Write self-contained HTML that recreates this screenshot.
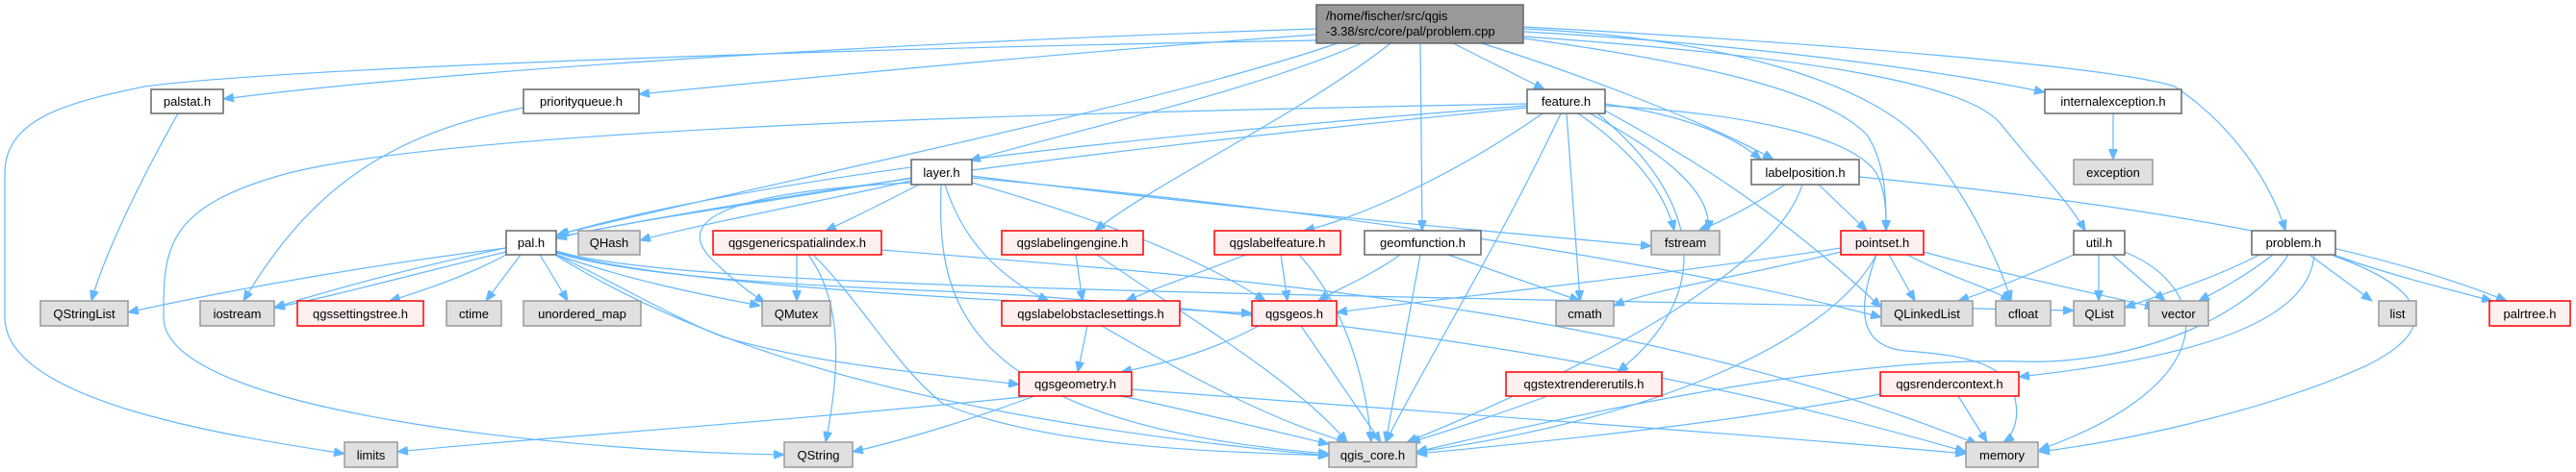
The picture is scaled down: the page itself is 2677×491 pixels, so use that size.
<!DOCTYPE html>
<html><head><meta charset="utf-8"><style>
html,body{margin:0;padding:0;background:#fff;}
svg{display:block;}
text{font-family:"Liberation Sans",sans-serif;font-size:13px;fill:#000;}
.w{fill:#fff;stroke:#666;stroke-width:1.5}
.g{fill:#e0e0e0;stroke:#999;stroke-width:1.5}
.r{fill:#fff0f0;stroke:#f00;stroke-width:1.5}
.t{fill:#999;stroke:#666;stroke-width:1.5}
.e path{fill:none;stroke:#63b8ff;stroke-width:1.2;marker-end:url(#a)}
</style></head><body>
<svg width="2677" height="491" viewBox="0 0 2677 491" xmlns="http://www.w3.org/2000/svg">
<defs><marker id="a" markerUnits="userSpaceOnUse" markerWidth="12" markerHeight="9" refX="11" refY="4.5" orient="auto"><path d="M0,0 L11,4.5 L0,9 z" fill="#63b8ff" stroke="#63b8ff"/></marker></defs>
<g class="e">
<path d="M1368,30 C900,45 450,75 232,103"/>
<path d="M1368,36 C1100,55 850,80 664,98"/>
<path d="M1368,42 C900,50 300,70 150,90 C80,105 5,120 5,180 L5,330 C5,420 250,455 358,472"/>
<path d="M1390,45 C1200,110 800,190 580,244"/>
<path d="M1415,45 C1300,95 1120,135 1008,167"/>
<path d="M1445,45 C1350,120 1200,190 1138,240"/>
<path d="M1476,45 L1478,240"/>
<path d="M1510,45 C1550,65 1580,80 1605,93"/>
<path d="M1540,45 C1650,80 1780,130 1843,166"/>
<path d="M1584,40 C1800,70 1900,100 1940,140 C1960,170 1960,210 1960,240"/>
<path d="M1584,30 C1800,40 1950,90 2000,150 C2050,210 2080,280 2090,313"/>
<path d="M1584,38 C1900,60 2050,90 2080,130 C2120,180 2150,210 2167,240"/>
<path d="M1584,33 C1800,45 2000,70 2125,96"/>
<path d="M1584,28 C1900,45 2200,70 2260,90 C2320,130 2360,190 2375,240"/>
<path d="M1587,108 C1200,115 500,130 300,180 C170,215 170,260 170,330 C170,430 600,470 815,473"/>
<path d="M1587,110 C1200,140 800,180 578,245"/>
<path d="M1587,112 C1100,160 600,220 285,320"/>
<path d="M1668,108 C1750,120 1800,140 1830,166"/>
<path d="M1668,110 C1850,120 1930,150 1950,180 C1960,200 1960,220 1960,240"/>
<path d="M1603,118 C1500,190 1400,230 1355,240"/>
<path d="M1622,118 C1560,250 1480,380 1440,460"/>
<path d="M1628,118 L1642,313"/>
<path d="M1640,118 C1700,160 1730,200 1740,240"/>
<path d="M1652,118 C1730,160 1780,200 1775,240"/>
<path d="M1660,118 C1760,200 1790,300 1681,387"/>
<path d="M1668,115 C1750,160 1850,220 1955,320"/>
<path d="M947,185 C800,210 650,230 578,248"/>
<path d="M947,188 C850,210 720,235 665,250"/>
<path d="M955,192 C910,215 880,230 858,240"/>
<path d="M947,190 C750,200 700,230 740,270 C760,290 780,305 795,315"/>
<path d="M982,192 C1000,250 1040,290 1090,313"/>
<path d="M1010,190 C1150,230 1250,270 1315,313"/>
<path d="M978,192 C975,300 980,440 1381,472"/>
<path d="M1010,183 C1300,220 1600,245 1716,256"/>
<path d="M1010,185 C1500,230 1800,290 1955,330"/>
<path d="M1855,192 C1820,215 1790,230 1765,240"/>
<path d="M1890,192 L1940,240"/>
<path d="M1873,192 C1840,300 1560,420 1462,460"/>
<path d="M1932,184 C2200,210 2450,250 2605,313"/>
<path d="M526,258 C350,280 200,310 133,325"/>
<path d="M526,262 C450,280 340,310 285,320"/>
<path d="M526,265 C480,290 430,305 405,313"/>
<path d="M541,265 L505,313"/>
<path d="M561,265 L590,313"/>
<path d="M578,265 C650,290 720,305 790,318"/>
<path d="M578,262 C700,300 1100,315 1301,326"/>
<path d="M578,265 C650,300 700,330 750,350 C850,380 980,390 1059,400"/>
<path d="M578,266 C700,340 900,430 1381,474"/>
<path d="M578,261 C700,300 1300,305 2155,323"/>
<path d="M578,263 C700,300 1000,300 1100,310 C1500,340 1800,400 2043,470"/>
<path d="M828,265 L828,313"/>
<path d="M840,265 C880,320 870,400 858,460"/>
<path d="M845,265 C900,320 930,380 980,420 C1100,470 1300,470 1381,474"/>
<path d="M916,260 C1300,290 1700,320 2055,462"/>
<path d="M1118,265 L1125,313"/>
<path d="M1140,265 C1250,340 1350,400 1400,460"/>
<path d="M1295,265 C1230,290 1200,300 1170,313"/>
<path d="M1331,265 L1338,313"/>
<path d="M1350,265 C1400,320 1420,400 1425,460"/>
<path d="M1455,265 C1420,290 1390,300 1370,313"/>
<path d="M1476,265 L1440,460"/>
<path d="M1505,265 L1642,313"/>
<path d="M1130,339 L1120,387"/>
<path d="M1145,339 C1250,400 1330,440 1400,460"/>
<path d="M1308,339 C1250,370 1200,380 1165,387"/>
<path d="M1352,339 L1435,460"/>
<path d="M1072,412 C800,440 500,460 413,470"/>
<path d="M1075,412 C1000,440 930,460 886,470"/>
<path d="M1165,412 C1250,430 1330,450 1381,462"/>
<path d="M1176,405 C1500,430 1800,450 2043,472"/>
<path d="M1608,412 C1560,430 1500,450 1465,460"/>
<path d="M1963,265 L1990,313"/>
<path d="M1982,265 C2030,290 2070,300 2090,313"/>
<path d="M1999,262 C2100,290 2200,310 2240,320"/>
<path d="M1913,258 C1700,290 1500,310 1389,325"/>
<path d="M1913,262 C1800,290 1720,300 1677,318"/>
<path d="M1950,265 C1900,360 1700,440 1472,470"/>
<path d="M1950,265 C1930,320 1930,360 1980,365 C2050,370 2090,380 2095,420 C2098,440 2090,455 2082,460"/>
<path d="M2155,265 C2100,290 2060,305 2035,313"/>
<path d="M2181,265 L2181,313"/>
<path d="M2195,265 L2250,313"/>
<path d="M2208,262 C2300,300 2310,400 2119,468"/>
<path d="M2348,265 C2300,290 2250,305 2208,320"/>
<path d="M2362,265 C2330,290 2300,305 2285,313"/>
<path d="M2400,265 L2465,313"/>
<path d="M2425,265 C2480,285 2540,300 2590,313"/>
<path d="M2405,265 C2400,330 2300,370 2098,392"/>
<path d="M2425,266 C2520,300 2540,340 2460,380 C2350,430 2200,460 2119,470"/>
<path d="M2378,265 C2330,340 2200,380 2100,376 C1900,370 1600,440 1472,470"/>
<path d="M1954,410 C1800,440 1600,460 1472,472"/>
<path d="M2035,412 L2065,460"/>
<path d="M2196,118 L2196,166"/>
<path d="M185,118 C150,180 110,260 95,313"/>
<path d="M544,112 C400,140 320,200 253,313"/>
</g>
<rect class="t" x="1368" y="5" width="215" height="40"/>
<text x="1378" y="21">/home/fischer/src/qgis</text>
<text x="1378" y="37">-3.38/src/core/pal/problem.cpp</text>
<g text-anchor="middle">
<rect class="w" x="157" y="93" width="75" height="25"/><text x="194.5" y="110">palstat.h</text>
<rect class="w" x="544" y="93" width="120" height="25"/><text x="604" y="110">priorityqueue.h</text>
<rect class="w" x="1587" y="93" width="81" height="25"/><text x="1627.5" y="110">feature.h</text>
<rect class="w" x="2125" y="93" width="142" height="25"/><text x="2196" y="110">internalexception.h</text>
<rect class="w" x="947" y="166" width="63" height="26"/><text x="978.5" y="184">layer.h</text>
<rect class="w" x="1820" y="166" width="112" height="26"/><text x="1876" y="184">labelposition.h</text>
<rect class="g" x="2155" y="166" width="82" height="26"/><text x="2196" y="184">exception</text>
<rect class="w" x="526" y="240" width="52" height="25"/><text x="552" y="257">pal.h</text>
<rect class="g" x="601" y="240" width="64" height="25"/><text x="633" y="257">QHash</text>
<rect class="r" x="741" y="240" width="175" height="25"/><text x="828.5" y="257">qgsgenericspatialindex.h</text>
<rect class="r" x="1041" y="240" width="147" height="25"/><text x="1114.5" y="257">qgslabelingengine.h</text>
<rect class="r" x="1262" y="240" width="131" height="25"/><text x="1327.5" y="257">qgslabelfeature.h</text>
<rect class="w" x="1418" y="240" width="121" height="25"/><text x="1478.5" y="257">geomfunction.h</text>
<rect class="g" x="1716" y="240" width="71" height="25"/><text x="1751.5" y="257">fstream</text>
<rect class="r" x="1913" y="240" width="86" height="25"/><text x="1956" y="257">pointset.h</text>
<rect class="w" x="2155" y="240" width="53" height="25"/><text x="2181.5" y="257">util.h</text>
<rect class="w" x="2340" y="240" width="87" height="25"/><text x="2383.5" y="257">problem.h</text>
<rect class="g" x="42" y="313" width="91" height="26"/><text x="87.5" y="331">QStringList</text>
<rect class="g" x="208" y="313" width="77" height="26"/><text x="246.5" y="331">iostream</text>
<rect class="r" x="309" y="313" width="131" height="26"/><text x="374.5" y="331">qgssettingstree.h</text>
<rect class="g" x="464" y="313" width="57" height="26"/><text x="492.5" y="331">ctime</text>
<rect class="g" x="544" y="313" width="122" height="26"/><text x="605" y="331">unordered_map</text>
<rect class="g" x="792" y="313" width="71" height="26"/><text x="827.5" y="331">QMutex</text>
<rect class="r" x="1041" y="313" width="185" height="26"/><text x="1133.5" y="331">qgslabelobstaclesettings.h</text>
<rect class="r" x="1301" y="313" width="88" height="26"/><text x="1345" y="331">qgsgeos.h</text>
<rect class="g" x="1617" y="313" width="60" height="26"/><text x="1647" y="331">cmath</text>
<rect class="g" x="1955" y="313" width="95" height="26"/><text x="2002.5" y="331">QLinkedList</text>
<rect class="g" x="2074" y="313" width="57" height="26"/><text x="2102.5" y="331">cfloat</text>
<rect class="g" x="2155" y="313" width="53" height="26"/><text x="2181.5" y="331">QList</text>
<rect class="g" x="2233" y="313" width="62" height="26"/><text x="2264" y="331">vector</text>
<rect class="g" x="2472" y="313" width="39" height="26"/><text x="2491.5" y="331">list</text>
<rect class="r" x="2587" y="313" width="84" height="26"/><text x="2629" y="331">palrtree.h</text>
<rect class="r" x="1059" y="387" width="117" height="25"/><text x="1117.5" y="404">qgsgeometry.h</text>
<rect class="r" x="1565" y="387" width="162" height="25"/><text x="1646" y="404">qgstextrendererutils.h</text>
<rect class="r" x="1954" y="387" width="144" height="25"/><text x="2026" y="404">qgsrendercontext.h</text>
<rect class="g" x="358" y="460" width="55" height="26"/><text x="385.5" y="478">limits</text>
<rect class="g" x="815" y="460" width="71" height="26"/><text x="850.5" y="478">QString</text>
<rect class="g" x="1381" y="460" width="91" height="26"/><text x="1426.5" y="478">qgis_core.h</text>
<rect class="g" x="2043" y="460" width="75" height="26"/><text x="2080.5" y="478">memory</text>
</g>
</svg>
</body></html>
